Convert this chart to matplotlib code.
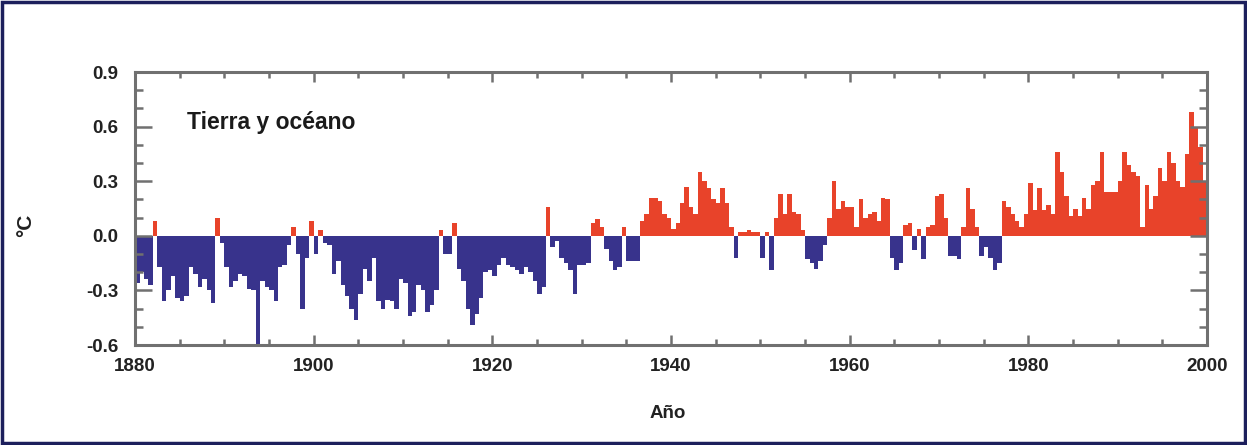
import numpy as np
import matplotlib
matplotlib.use("Agg")
import matplotlib.pyplot as plt
from matplotlib.patches import Rectangle
from matplotlib.ticker import MultipleLocator

plt.rcParams['font.family'] = ['Liberation Sans', 'DejaVu Sans']

# half-year anomalies (degC), 1880.0 ... 1999.5
start_year = 1880
step = 0.5
anomaly = [
    # 1880s
    -0.26, -0.20, -0.24, -0.27, 0.08, -0.17, -0.36, -0.30, -0.22, -0.34,
    -0.36, -0.33, -0.17, -0.21, -0.28, -0.24, -0.30, -0.37, 0.10, -0.04,
    # 1890s
    -0.17, -0.28, -0.25, -0.21, -0.22, -0.29, -0.30, -0.63, -0.25, -0.28,
    -0.30, -0.36, -0.17, -0.16, -0.05, 0.05, -0.10, -0.40, -0.12, 0.08,
    # 1900s
    -0.10, 0.03, -0.04, -0.05, -0.21, -0.14, -0.27, -0.33, -0.40, -0.46,
    -0.32, -0.18, -0.25, -0.12, -0.36, -0.40, -0.35, -0.36, -0.40, -0.24,
    # 1910s
    -0.26, -0.44, -0.42, -0.27, -0.30, -0.42, -0.38, -0.30, 0.03, -0.10,
    -0.10, 0.07, -0.18, -0.25, -0.40, -0.49, -0.43, -0.34, -0.20, -0.19,
    # 1920s
    -0.22, -0.16, -0.12, -0.16, -0.17, -0.19, -0.21, -0.17, -0.20, -0.25,
    -0.32, -0.28, 0.16, -0.06, -0.03, -0.12, -0.15, -0.19, -0.32, -0.16,
    # 1930s
    -0.16, -0.15, 0.07, 0.09, 0.05, -0.07, -0.14, -0.19, -0.17, 0.05,
    -0.14, -0.14, -0.14, 0.08, 0.12, 0.21, 0.21, 0.19, 0.12, 0.10,
    # 1940s
    0.04, 0.07, 0.18, 0.27, 0.16, 0.12, 0.35, 0.30, 0.26, 0.20,
    0.18, 0.26, 0.18, 0.05, -0.12, 0.02, 0.02, 0.03, 0.02, 0.02,
    # 1950s
    -0.12, 0.02, -0.19, 0.10, 0.23, 0.12, 0.23, 0.13, 0.12, 0.03,
    -0.13, -0.15, -0.18, -0.14, -0.05, 0.10, 0.30, 0.15, 0.19, 0.16,
    # 1960s
    0.16, 0.05, 0.20, 0.10, 0.12, 0.13, 0.08, 0.21, 0.20, -0.12,
    -0.19, -0.15, 0.06, 0.07, -0.08, 0.04, -0.13, 0.05, 0.06, 0.22,
    # 1970s
    0.23, 0.10, -0.11, -0.11, -0.13, 0.05, 0.26, 0.15, 0.05, -0.11,
    -0.06, -0.12, -0.19, -0.15, 0.19, 0.16, 0.12, 0.08, 0.05, 0.12,
    # 1980s
    0.29, 0.14, 0.26, 0.14, 0.17, 0.12, 0.46, 0.35, 0.22, 0.11,
    0.15, 0.11, 0.21, 0.15, 0.28, 0.30, 0.46, 0.24, 0.24, 0.24,
    # 1990s
    0.30, 0.46, 0.39, 0.35, 0.33, 0.05, 0.28, 0.15, 0.22, 0.37,
    0.30, 0.46, 0.40, 0.30, 0.27, 0.45, 0.68, 0.60, 0.49, 0.30,
]
x_ticks = [1880, 1900, 1920, 1940, 1960, 1980, 2000]
y_ticks = [-0.6, -0.3, 0.0, 0.3, 0.6, 0.9]

anomaly = np.array(anomaly)
years = start_year + step * np.arange(len(anomaly))

BLUE = '#38338c'
RED = '#e8432a'
GREY = '#707070'

fig = plt.figure(figsize=(12.47, 4.45), dpi=100)
ax = fig.add_axes([0.1083, 0.2247, 0.8597, 0.6135])

colors = np.where(anomaly >= 0, RED, BLUE)
ax.bar(years, anomaly, width=step, align='edge', color=colors, linewidth=0)

ax.set_xlim(1880, 2000)
ax.set_ylim(-0.6, 0.9)
ax.set_xticks(x_ticks)
ax.set_yticks(y_ticks)
ax.set_yticklabels(['%.1f' % v for v in y_ticks])
ax.xaxis.set_minor_locator(MultipleLocator(5))
ax.yaxis.set_minor_locator(MultipleLocator(0.1))

for s in ax.spines.values():
    s.set_color(GREY)
    s.set_linewidth(2.2)

ax.tick_params(axis='both', which='both', direction='in', color=GREY,
               top=True, right=True, width=1.8)
ax.tick_params(axis='y', which='major', length=12, pad=12)
ax.tick_params(axis='y', which='minor', length=6)
ax.tick_params(axis='x', which='major', length=7, pad=9)
ax.tick_params(axis='x', which='minor', length=4)
for lab in ax.get_xticklabels() + ax.get_yticklabels():
    lab.set_fontsize(13.5)
    lab.set_fontweight('bold')
    lab.set_color('#222222')

ax.text(0.0485, 0.815, 'Tierra y océano', transform=ax.transAxes,
        fontsize=16.5, fontweight='bold', color='#1a1a1a', va='center')

ax.set_ylabel('°C', fontsize=15, fontweight='bold', color='#222222')
ax.yaxis.set_label_coords(-0.093, 0.44)
ax.set_xlabel('Año', fontsize=13.5, fontweight='bold', color='#222222')
ax.xaxis.set_label_coords(0.497, -0.22)

# dark outer frame round the whole picture
fig.patches.append(Rectangle((0.002, 0.004), 0.996, 0.992, transform=fig.transFigure,
                             fill=False, edgecolor='#1c1f5c', linewidth=2.5))

fig.savefig('out.png', dpi=100)
